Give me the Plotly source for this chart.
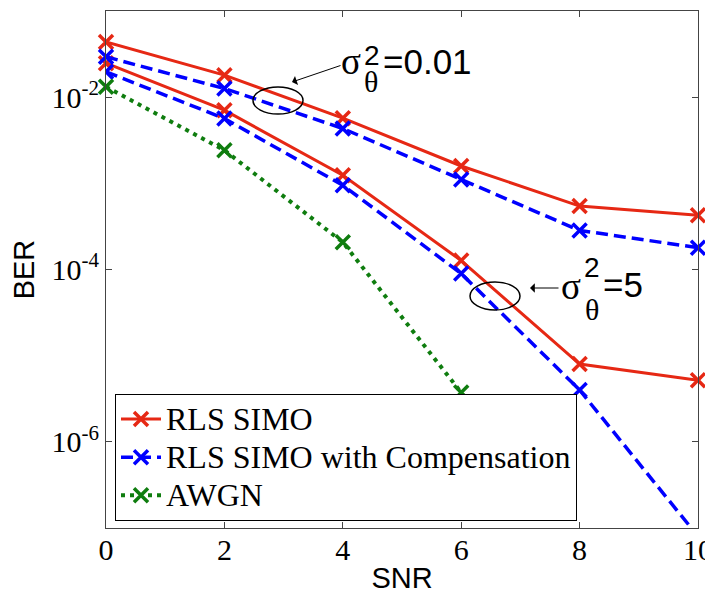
import plotly.graph_objects as go

# ---- data ----
snr = [0, 2, 4, 6, 8, 10]
snr_awgn = [0, 2, 4, 6]
rls_simo_001 = [0.0436, 0.0180, 5.7e-3, 1.59e-3, 5.45e-4, 4.25e-4]
rls_comp_001 = [0.0294, 0.0126, 4.33e-3, 1.11e-3, 2.84e-4, 1.79e-4]
rls_simo_5 = [0.0248, 7.06e-3, 1.24e-3, 1.27e-4, 8.0e-6, 5.2e-6]
rls_comp_5 = [0.0197, 5.65e-3, 9.5e-4, 8.97e-5, 4.0e-6, 8.0e-8]
awgn = [0.0132, 2.42e-3, 2.07e-4, 3.74e-6]

y_tickvals = [1e-6, 1e-4, 1e-2]
y_ticktext = ["10<sup>-6</sup>", "10<sup>-4</sup>", "10<sup>-2</sup>"]
x_tickvals = [0, 2, 4, 6, 8, 10]

legend_names = ["RLS SIMO", "RLS SIMO with Compensation", "AWGN"]

RED = "rgb(230,40,20)"
BLUE = "rgb(0,0,255)"
GREEN = "rgb(15,125,15)"
SERIF = "Times New Roman, Liberation Serif, serif"
SANS = "Arial, Liberation Sans, sans-serif"

# page offset caused by the default 8px body margin
OFF = 8
PAGE_W, PAGE_H = 713, 594
PLOT_L, PLOT_R, PLOT_T, PLOT_B = 106, 698, 11, 528  # plot area in page pixels
W, H = PAGE_W - OFF, PAGE_H - OFF
L = PLOT_L - OFF
T = PLOT_T - OFF
R = W - (PLOT_R - OFF)
B = H - (PLOT_B - OFF)
PW, PH = PLOT_R - PLOT_L, PLOT_B - PLOT_T


def xp(px):
    return (px - PLOT_L) / PW


def yp(py):
    return (PLOT_B - py) / PH


def mk(color):
    return dict(symbol="x-thin", size=14, color=color, line=dict(color=color, width=3.5))


def lname(s):
    return "<span style='font-size:32px'>" + s + "</span>"


fig = go.Figure()
fig.add_trace(go.Scatter(x=snr, y=rls_simo_001, mode="lines+markers", name=lname(legend_names[0]),
                         legendgroup="rls", line=dict(color=RED, width=3),
                         marker=mk(RED), cliponaxis=False))
fig.add_trace(go.Scatter(x=snr, y=rls_simo_5, mode="lines+markers", name=lname(legend_names[0]),
                         legendgroup="rls", showlegend=False, line=dict(color=RED, width=3),
                         marker=mk(RED), cliponaxis=False))
fig.add_trace(go.Scatter(x=snr, y=rls_comp_001, mode="lines+markers",
                         name=lname(legend_names[1]), legendgroup="comp",
                         line=dict(color=BLUE, width=3.5, dash="12px,6px"),
                         marker=mk(BLUE), cliponaxis=False))
fig.add_trace(go.Scatter(x=snr, y=rls_comp_5, mode="lines+markers",
                         name=lname(legend_names[1]), legendgroup="comp", showlegend=False,
                         line=dict(color=BLUE, width=3.5, dash="12px,6px"),
                         marker=mk(BLUE), cliponaxis=True))
fig.add_trace(go.Scatter(x=snr_awgn, y=awgn, mode="lines+markers", name=lname(legend_names[2]),
                         line=dict(color=GREEN, width=4, dash="4px,5px"),
                         marker=mk(GREEN), cliponaxis=False))

annotations = []
shapes = []


def label(cx, sig_y, sup_x, sup_y, sub_x, sub_y, eq_x, eq_y, eq_text):
    annotations.append(dict(xref="paper", yref="paper", x=xp(cx), y=yp(sig_y), text="σ",
                            showarrow=False, xanchor="center", yanchor="middle",
                            font=dict(family=SERIF, size=37, color="black")))
    annotations.append(dict(xref="paper", yref="paper", x=xp(sup_x), y=yp(sup_y), text="2",
                            showarrow=False, xanchor="center", yanchor="middle",
                            font=dict(family=SANS, size=28, color="black")))
    annotations.append(dict(xref="paper", yref="paper", x=xp(sub_x), y=yp(sub_y), text="θ",
                            showarrow=False, xanchor="center", yanchor="middle",
                            font=dict(family=SERIF, size=30, color="black")))
    annotations.append(dict(xref="paper", yref="paper", x=xp(eq_x), y=yp(eq_y), text=eq_text,
                            showarrow=False, xanchor="left", yanchor="middle",
                            font=dict(family=SANS, size=35, color="black")))


label(351, 62, 372, 55, 371, 82, 381, 62, "=0.01")
label(571, 286, 592, 267, 592, 309, 601, 284, "=5")

# arrows
annotations.append(dict(xref="paper", yref="paper", x=xp(292), y=yp(82), text="",
                        showarrow=True, ax=50, ay=-17, arrowhead=1, arrowsize=1.6,
                        arrowwidth=1, arrowcolor="black", standoff=0))
annotations.append(dict(xref="paper", yref="paper", x=xp(530), y=yp(288), text="",
                        showarrow=True, ax=30, ay=0, arrowhead=1, arrowsize=1.6,
                        arrowwidth=1, arrowcolor="black", standoff=0))

# ellipses
shapes.append(dict(type="circle", xref="paper", yref="paper", x0=xp(253), x1=xp(303),
                   y0=yp(114), y1=yp(87), line=dict(color="black", width=1.5)))
shapes.append(dict(type="circle", xref="paper", yref="paper", x0=xp(470), x1=xp(520),
                   y0=yp(310), y1=yp(282), line=dict(color="black", width=1.5)))

fig.update_layout(
    width=W, height=H,
    margin=dict(l=L, r=R, t=T, b=B, autoexpand=False),
    paper_bgcolor="white", plot_bgcolor="white",
    annotations=annotations, shapes=shapes,
    legend=dict(x=xp(115), y=yp(521), xanchor="left", yanchor="bottom",
                bgcolor="white", bordercolor="black", borderwidth=1,
                font=dict(family=SERIF, size=27, color="black"),
                itemwidth=40, tracegroupgap=0),
    xaxis=dict(range=[0, 10], tickvals=x_tickvals, ticks="inside", ticklen=6,
               tickcolor="#444", showline=True, linecolor="#444", linewidth=1,
               mirror="allticks", showgrid=False, zeroline=False,
               ticklabelstandoff=-5,
               tickfont=dict(family=SERIF, size=30, color="black"),
               title=dict(text="SNR", font=dict(family=SANS, size=29, color="black"),
                          standoff=2)),
    yaxis=dict(type="log", range=[-7, -1], tickvals=y_tickvals, ticktext=y_ticktext,
               ticks="inside", ticklen=6, tickcolor="#444", showline=True,
               linecolor="#444", linewidth=1, mirror="allticks", showgrid=False,
               zeroline=False,
               tickfont=dict(family=SERIF, size=30, color="black"),
               title=dict(text="BER", font=dict(family=SANS, size=29, color="black"),
                          standoff=8)),
)

fig.write_html("out.html")
